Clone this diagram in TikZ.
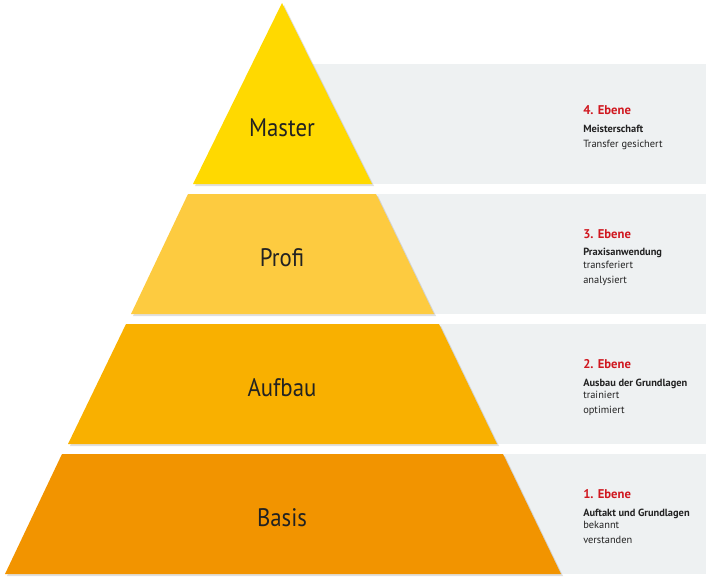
\documentclass[tikz,border=0pt]{standalone}
\usepackage{fontspec}
\setmainfont{PT Sans}
\newfontfamily\lvlfont{PT Sans}[FakeStretch=0.9]
\usetikzlibrary{shadows}
\definecolor{cMaster}{HTML}{FFD900}
\definecolor{cProfi}{HTML}{FDCB40}
\definecolor{cAufbau}{HTML}{F9B000}
\definecolor{cBasis}{HTML}{F29400}
\definecolor{cPanel}{HTML}{EEF1F2}
\definecolor{cRed}{HTML}{D0171F}
\definecolor{cText}{HTML}{222222}
\tikzset{
  panel/.style={fill=cPanel, draw=none},
  level/.style={draw=none, drop shadow={opacity=0.25, shadow xshift=1.5pt, shadow yshift=-1.5pt}},
  lvllabel/.style={font=\lvlfont\fontsize{19}{21}\selectfont, text=cText},
  ebene/.style={anchor=base west, inner sep=0pt, font=\bfseries\fontsize{9.5}{11}\selectfont, text=cRed},
  head/.style={anchor=base west, inner sep=0pt, font=\bfseries\fontsize{7.8}{9}\selectfont, text=cText},
  sub/.style={anchor=base west, inner sep=0pt, font=\fontsize{7.8}{9}\selectfont, text=cText},
}
\begin{document}
\begin{tikzpicture}[x=0.75pt,y=-0.75pt]
\useasboundingbox (0,0) rectangle (706,586);
% panels
\path[panel] (282,64) rectangle (706,184);
\path[panel] (282,194) rectangle (706,314);
\path[panel] (282,324) rectangle (706,444);
\path[panel] (282,454) rectangle (706,574);
% pyramid levels
\path[level, fill=cBasis] (62,454) -- (503,454) -- (561,574) -- (5,574) -- cycle;
\path[level, fill=cAufbau] (126,324) -- (439,324) -- (497,444) -- (68,444) -- cycle;
\path[level, fill=cProfi] (188,194) -- (376,194) -- (434,314) -- (131,314) -- cycle;
\path[level, fill=cMaster] (282,3) -- (372,184) -- (193,184) -- cycle;
% labels
\node[lvllabel] (master) at (282,128) {Master};
\node[lvllabel] (profi) at (282,258) {Profi};
\node[lvllabel] (aufbau) at (282,388) {Aufbau};
\node[lvllabel] (basis) at (282,518) {Basis};
% panel texts
\node[ebene] (e4) at (583,114) {4. Ebene};
\node[head] (h4) at (583,132) {Meisterschaft};
\node[sub] (s4a) at (583,147) {Transfer gesichert};

\node[ebene] (e3) at (583,238) {3. Ebene};
\node[head] (h3) at (583,255) {Praxisanwendung};
\node[sub] (s3a) at (583,268) {transferiert};
\node[sub] (s3b) at (583,283) {analysiert};

\node[ebene] (e2) at (583,368) {2. Ebene};
\node[head] (h2) at (583,386) {Ausbau der Grundlagen};
\node[sub] (s2a) at (583,398) {trainiert};
\node[sub] (s2b) at (583,413) {optimiert};

\node[ebene] (e1) at (583,498) {1. Ebene};
\node[head] (h1) at (583,516) {Auftakt und Grundlagen};
\node[sub] (s1a) at (583,528) {bekannt};
\node[sub] (s1b) at (583,543) {verstanden};
\end{tikzpicture}
\end{document}
